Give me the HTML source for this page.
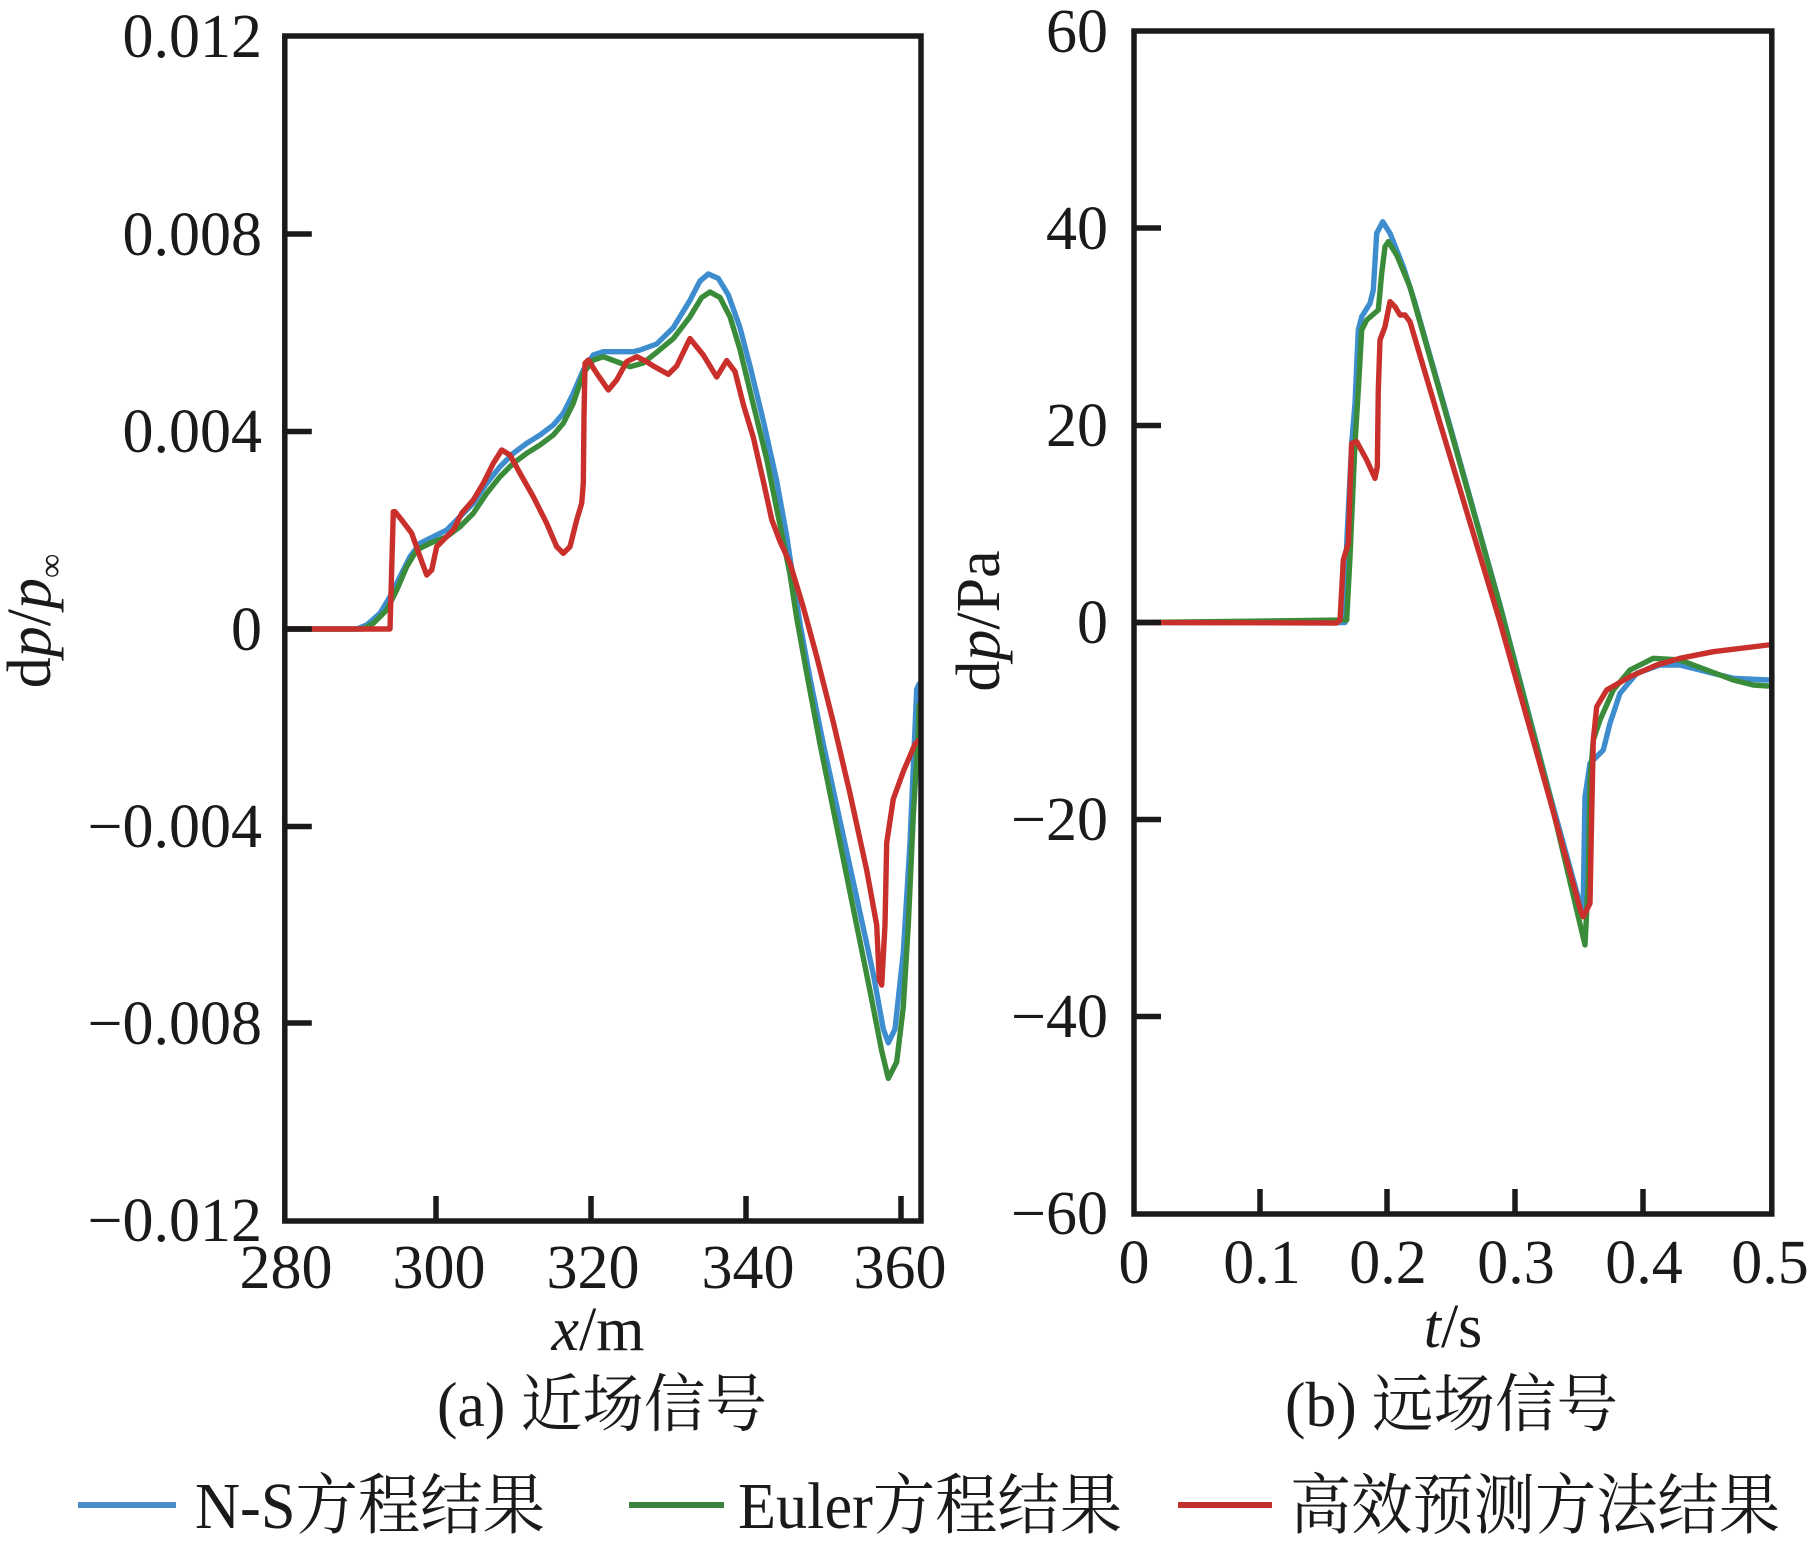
<!DOCTYPE html>
<html><head><meta charset="utf-8"><style>
html,body{margin:0;padding:0;background:#fff;}
svg{display:block;}
text{font-family:"Liberation Serif","Noto Serif CJK SC",serif;fill:#1a1a1a;}
</style></head><body>
<svg width="1812" height="1549" viewBox="0 0 1812 1549" xmlns="http://www.w3.org/2000/svg">
<rect width="1812" height="1549" fill="#fff"/>
<g fill="none" stroke-linejoin="round" stroke-linecap="round" stroke-width="5.4">
<!-- Left plot curves -->
<polyline stroke="#3e8ecf" points="287,629 356.7,629 366.7,625 380,613.3 390,596.7 400,576.7 410,556.7 420,543.3 433.3,536.7 446.7,530 460,516.7 473.3,503.3 486.7,483.3 500,466.7 513.3,453.3 526.7,443.3 540,435 553.3,425 563.3,413.3 573.3,393.3 583.3,370 593.3,355 603.3,351.7 616.7,351.7 633.3,351.7 640,350 656.7,344 673.3,327.7 690,300.3 700,281 708.3,274 718.3,278.4 728.3,294.8 740,327.7 750,366 763.3,420.8 776.7,481 786.7,536 793.3,579.8 800,623.6 810,678.4 823.3,744 840,821 856.7,897.6 873.3,974 883.3,1029 888.3,1042.8 895,1029 903.3,952.4 910,842.8 916.7,689.4 919,684"/>
<polyline stroke="#3a8c3a" points="287,629 363.3,629 373.3,623.3 386.7,610 396.7,590 406.7,566.7 416.7,550 430,543.3 446.7,536.7 460,526.7 473.3,513.3 486.7,493.3 500,476.7 513.3,463.3 526.7,453.3 540,445 553.3,435 563.3,423.3 573.3,403.3 583.3,373.3 593.3,360 603.3,356.7 616.7,361.7 630,366.7 643.3,363 656.7,352.3 673.3,338.6 690,316.7 701.7,297.5 710,292 720,297.5 730,316.7 740,349.6 753.3,404.4 766.7,459.2 780,525 790,574.3 796.7,618 806.7,673 820,744 836.7,826.4 853.3,908.6 870,990.8 881.7,1051 888.3,1078.4 896.7,1062 903.3,1007 908.3,925 913.3,815.4 918.3,733 919,705"/>
<polyline stroke="#c9302c" points="287,629 390,629 393.3,511.7 395,511.7 401.7,520 411.7,533.3 420,556.7 426.7,575 431.7,570 436.7,546.7 443.3,540 453.3,530 461.7,513.3 473.3,500 483.3,483.3 493.3,463.3 501.7,450 510,455 520,473.3 533.3,496.7 546.7,523.3 556.7,546.7 563.3,553.3 570,546.7 576.7,520 581.7,503.3 583.3,483.3 584,416.7 585,363.3 588.3,360 596.7,373.3 608.3,390 616.7,380 626.7,361.7 636.7,356.7 646.7,361.7 653.3,366 668.3,374.3 676.7,366 690,338.6 703.3,355 716.7,377 721.7,368.8 726.7,360.6 735,371.5 743.3,404.4 753.3,437.3 763.3,481 771.7,519.5 780,541.4 790,563.3 803.3,607.2 816.7,656.5 833.3,722.2 850,793.5 866.7,870.2 876.7,925 879.3,979.8 881.7,985 885,925 886.7,842.8 893.3,799 903.3,771.6 915,744 919,740"/>
<!-- Right plot curves -->
<polyline stroke="#3e8ecf" points="1137,622.5 1345,622.5 1346.7,543.3 1351.7,443.3 1355,403.3 1358.3,330 1361.7,316.7 1370,303.3 1373.3,290 1376.7,233.3 1382.7,221.7 1390,233.3 1403.3,266.7 1415,303 1450,426 1500,605 1550,795 1583,915 1585,796.7 1590,763.3 1596.7,756.7 1603.3,750 1610,723.3 1620,693.3 1636.7,673.3 1660,665 1680,665 1706.7,671.7 1733.3,678.3 1768,680"/>
<polyline stroke="#3a8c3a" points="1137,622.5 1346.7,620 1350,556.7 1355,443.3 1358.3,390 1361.7,330 1366.7,320 1378.3,310 1381.7,273.3 1385,246.7 1388.3,241.7 1396.7,255 1410,287 1450,428 1500,606 1550,797 1585,945 1588.3,880 1590,780 1593.3,740 1600,720 1613.3,690 1630,670 1653.3,658.3 1680,660 1706.7,670 1733.3,680 1753.3,685 1768,686"/>
<polyline stroke="#c9302c" points="1137,622.5 1336.7,623 1340,620 1341.7,590 1343.3,560 1348.3,543.3 1350,490 1351.7,443.3 1356.7,441.7 1366.7,460 1375,478.3 1377.3,466.7 1378.3,390 1380,340 1385,326.7 1390,301.7 1395,306.7 1400,315 1405,315 1410,321.7 1440,423 1500,622 1550,800 1581,912 1583.3,916.7 1590,903.3 1591.7,813.3 1593.3,740 1596.7,706.7 1606.7,690 1630,676.7 1656.7,665 1680,658.3 1713.3,651.7 1768,645"/>
</g>
<!-- Frames and ticks -->
<g fill="none" stroke="#1a1a1a" stroke-width="5.5">
<rect x="284.8" y="36" width="636.2" height="1185"/>
<path d="M284.8,234 h27 M284.8,431.5 h27 M284.8,629 h27 M284.8,826.5 h27 M284.8,1023 h27"/>
<path d="M436,1221 v-25 M591,1221 v-25 M746,1221 v-25 M901,1221 v-25"/>
<rect x="1134" y="31" width="637.8" height="1183"/>
<path d="M1134,228 h27 M1134,425.5 h27 M1134,622.5 h27 M1134,819.5 h27 M1134,1016.5 h27"/>
<path d="M1260,1214 v-25 M1387,1214 v-25 M1515,1214 v-25 M1643,1214 v-25"/>
</g>
<!-- Left y tick labels -->
<g font-size="62" text-anchor="end">
<text x="262" y="57">0.012</text>
<text x="262" y="255">0.008</text>
<text x="262" y="452">0.004</text>
<text x="262" y="650">0</text>
<text x="262" y="847">−0.004</text>
<text x="262" y="1044">−0.008</text>
<text x="262" y="1241">−0.012</text>
</g>
<!-- Left x tick labels -->
<g font-size="62" text-anchor="middle">
<text x="286" y="1288">280</text>
<text x="439" y="1288">300</text>
<text x="593" y="1288">320</text>
<text x="748" y="1288">340</text>
<text x="900" y="1288">360</text>
</g>
<!-- Right y tick labels -->
<g font-size="62" text-anchor="end">
<text x="1108" y="52">60</text>
<text x="1108" y="249">40</text>
<text x="1108" y="446">20</text>
<text x="1108" y="643">0</text>
<text x="1108" y="840">−20</text>
<text x="1108" y="1037">−40</text>
<text x="1108" y="1234">−60</text>
</g>
<!-- Right x tick labels -->
<g font-size="62" text-anchor="middle">
<text x="1134" y="1283">0</text>
<text x="1262" y="1283">0.1</text>
<text x="1388" y="1283">0.2</text>
<text x="1516" y="1283">0.3</text>
<text x="1644" y="1283">0.4</text>
<text x="1770" y="1283">0.5</text>
</g>
<!-- Axis titles -->
<text font-size="62" text-anchor="middle" transform="translate(50,621) rotate(-90)">d<tspan font-style="italic">p</tspan>/<tspan font-style="italic">p</tspan><tspan font-size="34" dy="12">∞</tspan></text>
<text font-size="62" text-anchor="middle" transform="translate(999,621) rotate(-90)">d<tspan font-style="italic">p</tspan>/Pa</text>
<text font-size="62" text-anchor="middle" x="598" y="1350"><tspan font-style="italic">x</tspan>/m</text>
<text font-size="62" text-anchor="middle" x="1453" y="1347"><tspan font-style="italic">t</tspan>/s</text>
<!-- Captions -->
<text font-size="63" x="437" y="1426" textLength="330" lengthAdjust="spacingAndGlyphs">(a) 近场信号</text>
<text font-size="63" x="1285" y="1426" textLength="333" lengthAdjust="spacingAndGlyphs">(b) 远场信号</text>
<!-- Legend -->
<g stroke-width="6">
<line x1="78" y1="1505" x2="176" y2="1505" stroke="#4a8cc7"/>
<line x1="629" y1="1505" x2="724" y2="1505" stroke="#3a8440"/>
<line x1="1178" y1="1505" x2="1272" y2="1505" stroke="#c0302c"/>
</g>
<g font-size="66">
<text x="195" y="1528" textLength="350" lengthAdjust="spacingAndGlyphs">N-S方程结果</text>
<text x="738" y="1528" textLength="384" lengthAdjust="spacingAndGlyphs">Euler方程结果</text>
<text x="1290" y="1528" textLength="490" lengthAdjust="spacingAndGlyphs">高效预测方法结果</text>
</g>
</svg>
</body></html>
